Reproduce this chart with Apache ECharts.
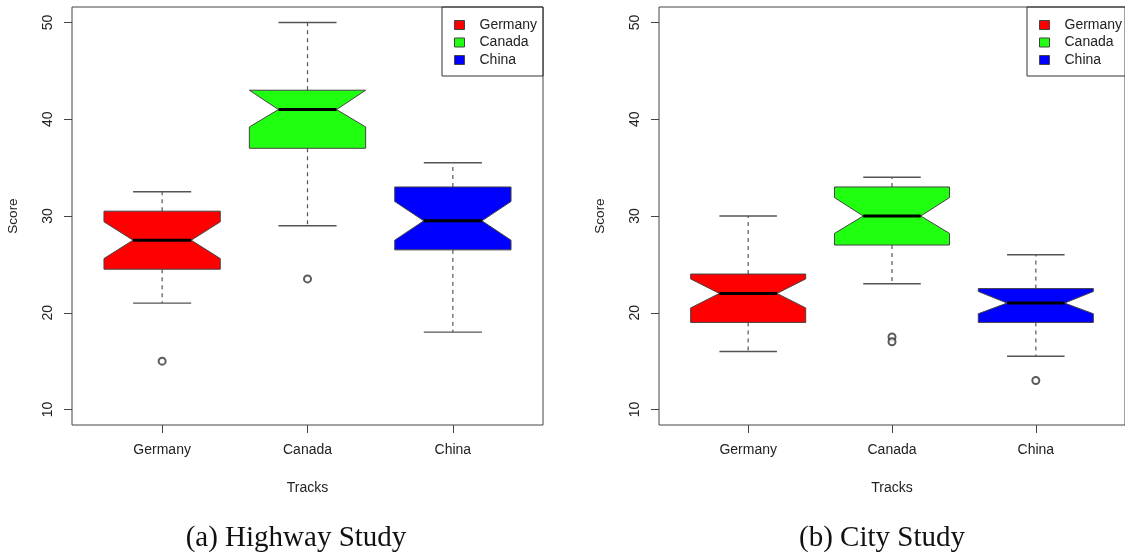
<!DOCTYPE html>
<html>
<head>
<meta charset="utf-8">
<script src="https://cdn.jsdelivr.net/npm/echarts@6/dist/echarts.min.js"></script>
<style>
html,body{margin:0;padding:0;background:#fff;}
#chart{width:1125px;height:554px;}
</style>
</head>
<body>
<div id="chart"></div>
<script>
// ---------- data ----------
const categories = ['Germany', 'Canada', 'China'];
const yTicks = [10, 20, 30, 40, 50];

// Highway study
const hwLowerWhisker = [21, 29, 18];
const hwQ1           = [24.5, 37, 26.5];
const hwNotchLow     = [25.6, 39.2, 27.5];
const hwMedian       = [27.5, 41, 29.5];
const hwNotchHigh    = [29.4, 43, 31.5];
const hwQ3           = [30.5, 43, 33];
const hwUpperWhisker = [32.5, 50, 35.5];
const hwOutliers     = [[15], [23.5], []];

// City study
const ctLowerWhisker = [16, 23, 15.5];
const ctQ1           = [19, 27, 19];
const ctNotchLow     = [20.5, 28.2, 19.9];
const ctMedian       = [22, 30, 21];
const ctNotchHigh    = [23.5, 31.9, 22.2];
const ctQ3           = [24, 33, 22.5];
const ctUpperWhisker = [30, 34, 26];
const ctOutliers     = [[], [17.5, 17], [13]];

const captions = ['(a) Highway Study', '(b) City Study'];

// ---------- styles ----------
const colors = ['#FF0000', '#20FF10', '#0000FF'];
const FONT = 'Liberation Sans, Arial, sans-serif';
const TXT = '#222';

function renderBox(color) {
  return function (params, api) {
    const x = api.value(0);
    const lw = api.value(1), q1 = api.value(2), nl = api.value(3), med = api.value(4),
          nh = api.value(5), q3 = api.value(6), uw = api.value(7);
    const p = (dx, v) => api.coord([x + dx, v]);
    const wStyle = { stroke: '#555', lineWidth: 1.2, lineDash: [4, 4] };
    const cStyle = { stroke: '#555', lineWidth: 1.4 };
    const a = p(0, q1), b = p(0, lw), c = p(0, q3), d = p(0, uw);
    const cl1 = p(-0.2, lw), cr1 = p(0.2, lw), cl2 = p(-0.2, uw), cr2 = p(0.2, uw);
    const pts = [p(-0.4, q1), p(-0.4, nl), p(-0.2, med), p(-0.4, nh), p(-0.4, q3),
                 p(0.4, q3), p(0.4, nh), p(0.2, med), p(0.4, nl), p(0.4, q1)];
    const m1 = p(-0.2, med), m2 = p(0.2, med);
    return {
      type: 'group',
      children: [
        { type: 'line', shape: { x1: a[0], y1: a[1], x2: b[0], y2: b[1] }, style: wStyle },
        { type: 'line', shape: { x1: c[0], y1: c[1], x2: d[0], y2: d[1] }, style: wStyle },
        { type: 'line', shape: { x1: cl1[0], y1: cl1[1], x2: cr1[0], y2: cr1[1] }, style: cStyle },
        { type: 'line', shape: { x1: cl2[0], y1: cl2[1], x2: cr2[0], y2: cr2[1] }, style: cStyle },
        { type: 'polygon', shape: { points: pts }, style: { fill: color, stroke: '#444', lineWidth: 1 } },
        { type: 'line', shape: { x1: m1[0], y1: m1[1], x2: m2[0], y2: m2[1] }, style: { stroke: '#000', lineWidth: 3 } }
      ]
    };
  };
}

const studies = [
  { lw: hwLowerWhisker, q1: hwQ1, nl: hwNotchLow, med: hwMedian, nh: hwNotchHigh, q3: hwQ3, uw: hwUpperWhisker, out: hwOutliers },
  { lw: ctLowerWhisker, q1: ctQ1, nl: ctNotchLow, med: ctMedian, nh: ctNotchHigh, q3: ctQ3, uw: ctUpperWhisker, out: ctOutliers }
];

const gridDefs = [
  { left: 72, top: 7, width: 471, height: 418 },
  { left: 659, top: 7, width: 473, height: 418 }
];
const legendLeft = [442, 1027];
const captionX = [296, 882];

const option = {
  animation: false,
  backgroundColor: '#fff',
  textStyle: { fontFamily: FONT },
  grid: gridDefs.map(g => Object.assign({ show: true, borderColor: '#444', borderWidth: 1, backgroundColor: 'transparent', containLabel: false }, g)),
  xAxis: [0, 1].map(i => ({
    gridIndex: i, type: 'value', min: 0.38, max: 3.62,
    axisLine: { show: false },
    splitLine: { show: false },
    axisTick: { show: true, customValues: [1, 2, 3], length: 8, lineStyle: { color: '#444' } },
    axisLabel: { customValues: [1, 2, 3], formatter: v => categories[Math.round(v) - 1], margin: 18, fontSize: 14, color: TXT, fontFamily: FONT },
    name: 'Tracks', nameLocation: 'middle', nameGap: 56,
    nameTextStyle: { fontSize: 14, color: TXT, fontFamily: FONT }
  })),
  yAxis: [0, 1].map(i => ({
    gridIndex: i, type: 'value', min: 8.4, max: 51.6,
    axisLine: { show: false },
    splitLine: { show: false },
    axisTick: { show: true, customValues: yTicks, length: 8, lineStyle: { color: '#444' } },
    axisLabel: { customValues: yTicks, rotate: 90, margin: 17, fontSize: 14, color: TXT, fontFamily: FONT },
    name: 'Score', nameLocation: 'middle', nameGap: 52,
    nameTextStyle: { fontSize: 13.5, color: TXT, fontFamily: FONT }
  })),
  legend: [0, 1].map(i => ({
    data: categories,
    orient: 'vertical',
    left: legendLeft[i], top: 7,
    padding: [11, 6, 9, 12],
    itemGap: 3.5,
    itemWidth: 10, itemHeight: 9,
    icon: 'rect',
    borderColor: '#333', borderWidth: 1,
    itemStyle: { borderColor: '#444', borderWidth: 1 },
    textStyle: { fontSize: 14, color: TXT, fontFamily: FONT, padding: [0, 0, 0, 10] },
    selectedMode: false
  })),
  graphic: captions.map((t, i) => ({
    type: 'text', x: captionX[i], y: 538,
    style: { text: t, fill: '#111', font: '29px "Liberation Serif", "Times New Roman", serif', textAlign: 'center', textVerticalAlign: 'middle' }
  })),
  series: []
};

studies.forEach((s, gi) => {
  categories.forEach((name, ci) => {
    option.series.push({
      type: 'custom', name: name,
      xAxisIndex: gi, yAxisIndex: gi,
      itemStyle: { color: colors[ci] },
      renderItem: renderBox(colors[ci]),
      encode: { x: 0, y: [1, 2, 3, 4, 5, 6, 7] },
      data: [[ci + 1, s.lw[ci], s.q1[ci], s.nl[ci], s.med[ci], s.nh[ci], s.q3[ci], s.uw[ci]]],
      z: 2
    });
  });
  const outData = [];
  s.out.forEach((arr, ci) => arr.forEach(v => outData.push([ci + 1, v])));
  option.series.push({
    type: 'scatter', name: 'outliers' + gi,
    xAxisIndex: gi, yAxisIndex: gi,
    symbol: 'emptyCircle', symbolSize: 7,
    itemStyle: { color: '#333', borderWidth: 1 },
    data: outData, z: 3
  });
});

const chart = echarts.init(document.getElementById('chart'), null, { renderer: 'canvas' });
chart.setOption(option);
</script>
</body>
</html>
